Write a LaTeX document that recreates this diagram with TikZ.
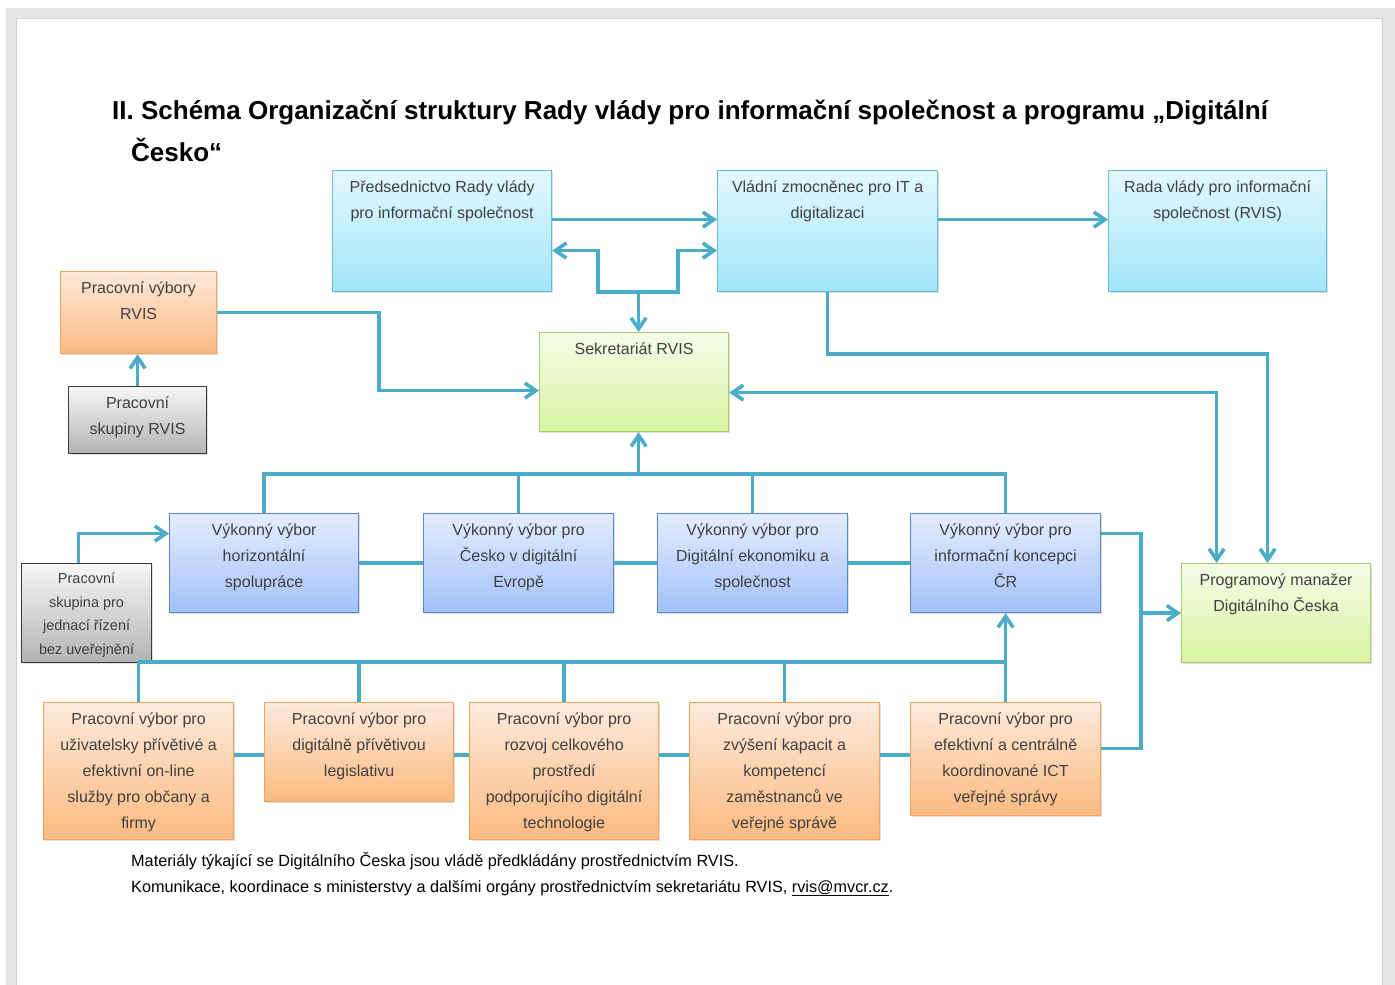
\documentclass[tikz,border=0pt]{standalone}
\usepackage{fontspec}
\setmainfont{Liberation Sans}
\usetikzlibrary{arrows.meta,shadows}
\definecolor{linka}{HTML}{4BACC6}
\definecolor{pozadi}{HTML}{E6E6E6}
\definecolor{pismo}{HTML}{404040}
\definecolor{modryh}{HTML}{E3F8FF}
\definecolor{modryd}{HTML}{A2E5FB}
\definecolor{modryo}{HTML}{62BFD8}
\definecolor{vyborh}{HTML}{E4EDFF}
\definecolor{vybord}{HTML}{A2C1F9}
\definecolor{vyboro}{HTML}{5A87C8}
\definecolor{oranzh}{HTML}{FEEADC}
\definecolor{oranzd}{HTML}{FBBA80}
\definecolor{oranzo}{HTML}{F7A258}
\definecolor{zelenh}{HTML}{F6FBE8}
\definecolor{zeleno}{HTML}{A9C96A}
\definecolor{zelend}{HTML}{D8F4A2}
\definecolor{sedah}{HTML}{F7F7F7}
\definecolor{sedad}{HTML}{B3B3B3}
\definecolor{sedao}{HTML}{3A3A3A}
\newcommand{\txt}[4][22pt]{\parbox[c][#3][t]{#2}{\centering\rule{0pt}{#1}#4}}
\begin{document}
\begin{tikzpicture}[x=1pt,y=-1pt,
	box/.style={draw,line width=1.2pt,inner sep=0pt,anchor=north west,text=pismo,
		font=\fontsize{16}{26}\selectfont,
		drop shadow={shadow xshift=1.5pt,shadow yshift=-1.5pt,opacity=.25}},
	modry/.style={box,draw=modryo,top color=modryh,bottom color=modryd},
	vybor/.style={box,draw=vyboro,top color=vyborh,bottom color=vybord},
	oranz/.style={box,draw=oranzo,top color=oranzh,bottom color=oranzd},
	zelen/.style={box,draw=zeleno,top color=zelenh,bottom color=zelend},
	seda/.style={box,draw=sedao,top color=sedah,bottom color=sedad},
	spoj/.style={draw=linka,line width=3.6pt},
	>={Straight Barb[length=11pt,width=15pt]}]
	\useasboundingbox (0,0) rectangle (1395,985);
	%Stránka
	\fill[pozadi] (6,8) rectangle (1395,985);
	\fill[white] (16,18) rectangle (1382,985);
	\draw[black!18,line width=1pt] (16,985) -- (16,18) -- (1382,18) -- (1382,985);
	%Nadpis
	\node[anchor=base west,inner sep=0pt,align=left,font=\bfseries\fontsize{26}{42}\selectfont] (nadpis) at (112,161)
		{II. Schéma Organizační struktury Rady vlády pro informační společnost a programu „Digitální\\\hspace*{19pt}Česko“};
	%Horní řada
	\node[modry] (P) at (332,170) {\txt{219pt}{121pt}{Předsednictvo Rady vlády\\pro informační společnost}};
	\node[modry] (V) at (717,170) {\txt{220pt}{121pt}{Vládní zmocněnec pro IT a\\digitalizaci}};
	\node[modry] (R) at (1108,170) {\txt{218pt}{121pt}{Rada vlády pro informační\\společnost (RVIS)}};
	%Pracovní výbory a skupiny RVIS
	\node[oranz] (PV) at (60,271) {\txt{156pt}{82pt}{Pracovní výbory\\RVIS}};
	\node[seda] (PS) at (68,386) {\txt{138pt}{67pt}{Pracovní\\skupiny RVIS}};
	%Sekretariát
	\node[zelen] (S) at (539,332) {\txt{189pt}{99pt}{Sekretariát RVIS}};
	\coordinate (sn) at ([xshift=4.5pt]S.north);
	\coordinate (ss) at ([xshift=4.5pt]S.south);
	%Výkonné výbory
	\node[vybor] (E1) at (169,513) {\txt{189pt}{99pt}{Výkonný výbor\\horizontální\\spolupráce}};
	\node[vybor] (E2) at (423,513) {\txt{190pt}{99pt}{Výkonný výbor pro\\Česko v digitální\\Evropě}};
	\node[vybor] (E3) at (657,513) {\txt{190pt}{99pt}{Výkonný výbor pro\\Digitální ekonomiku a\\společnost}};
	\node[vybor] (E4) at (910,513) {\txt{190pt}{99pt}{Výkonný výbor pro\\informační koncepci\\ČR}};
	\node[seda,font=\fontsize{14.5}{23.5}\selectfont] (G) at (21,563)
		{\txt[20pt]{130pt}{99pt}{Pracovní\\skupina pro\\jednací řízení\\bez uveřejnění}};
	%Programový manažer
	\node[zelen] (PM) at (1181,563) {\txt{189pt}{99pt}{Programový manažer\\Digitálního Česka}};
	%Pracovní výbory
	\node[oranz] (W1) at (43,702) {\txt{190pt}{137pt}{Pracovní výbor pro\\uživatelsky přívětivé a\\efektivní on-line\\služby pro občany a\\firmy}};
	\node[oranz] (W2) at (264,702) {\txt{189pt}{99pt}{Pracovní výbor pro\\digitálně přívětivou\\legislativu}};
	\node[oranz] (W3) at (469,702) {\txt{189pt}{137pt}{Pracovní výbor pro\\rozvoj celkového\\prostředí\\podporujícího digitální\\technologie}};
	\node[oranz] (W4) at (689,702) {\txt{190pt}{137pt}{Pracovní výbor pro\\zvýšení kapacit a\\kompetencí\\zaměstnanců ve\\veřejné správě}};
	\node[oranz] (W5) at (910,702) {\txt{190pt}{113pt}{Pracovní výbor pro\\efektivní a centrálně\\koordinované ICT\\veřejné správy}};
	%Poznámka
	\node[anchor=base west,inner sep=0pt,align=left,font=\fontsize{16.25}{26}\selectfont] (pozn) at (131,892)
		{Materiály týkající se Digitálního Česka jsou vládě předkládány prostřednictvím RVIS.\\
		Komunikace, koordinace s ministerstvy a dalšími orgány prostřednictvím sekretariátu RVIS, \underline{rvis@mvcr.cz}.};
	%Spoje nahoře
	\draw[spoj,->] ([yshift=11.5pt]P.east) -- ([yshift=11.5pt]V.west);
	\draw[spoj,->] ([yshift=11.5pt]V.east) -- ([yshift=11.5pt]R.west);
	\coordinate (jl) at ([xshift=46pt]P.south east);
	\coordinate (jr) at ([xshift=-39pt]V.south west);
	\draw[spoj,<->] ([yshift=-19.5pt]P.east) -| (jl) -- (jr) |- ([yshift=-19.5pt]V.west);
	\draw[spoj,->] (sn |- jl) -- (sn);
	\draw[spoj,->] (PS.north) -- (PS.north |- PV.south);
	\draw[spoj,->] (PV.east) -- ++(162,0) |- ([yshift=-8.5pt]S.west);
	\draw[spoj,->] (V.south) -- ++(0,62) -| ([xshift=-8.5pt]PM.north);
	\draw[spoj,<->] ([yshift=-10.5pt]S.east) -| ([xshift=-59.5pt]PM.north);
	%Spoje výkonných výborů
	\draw[spoj] (E1.north) -- ++(0,-39) coordinate (eb) -| (E4.north);
	\draw[spoj] (E2.north) -- (E2.north |- eb);
	\draw[spoj] (E3.north) -- (E3.north |- eb);
	\draw[spoj,->] (ss |- eb) -- (ss);
	\draw[spoj] (E1.east) -- (E2.west) (E2.east) -- (E3.west) (E3.east) -- (E4.west);
	\draw[spoj,->] ([xshift=-8pt]G.north) |- ([yshift=29.5pt]E1.west);
	\draw[spoj] ([yshift=29.5pt]E4.east) -- ++(40,0) coordinate (ek) |- ([yshift=10.5pt]W5.east);
	\draw[spoj,->] (ek |- PM.west) -- (PM.west);
	%Spoje pracovních výborů
	\draw[spoj] (W1.north) -- ++(0,-40) coordinate (wb) -| (W5.north);
	\draw[spoj] (W2.north) -- (W2.north |- wb);
	\draw[spoj] (W3.north) -- (W3.north |- wb);
	\draw[spoj] (W4.north) -- (W4.north |- wb);
	\draw[spoj,->] (W5.north) -- (E4.south);
	\coordinate (wm) at ([yshift=-53pt]W1.north east);
	\draw[spoj] (wm) -- (wm -| W2.west) (wm -| W2.east) -- (wm -| W3.west)
		(wm -| W3.east) -- (wm -| W4.west) (wm -| W4.east) -- (wm -| W5.west);
\end{tikzpicture}
\end{document}
